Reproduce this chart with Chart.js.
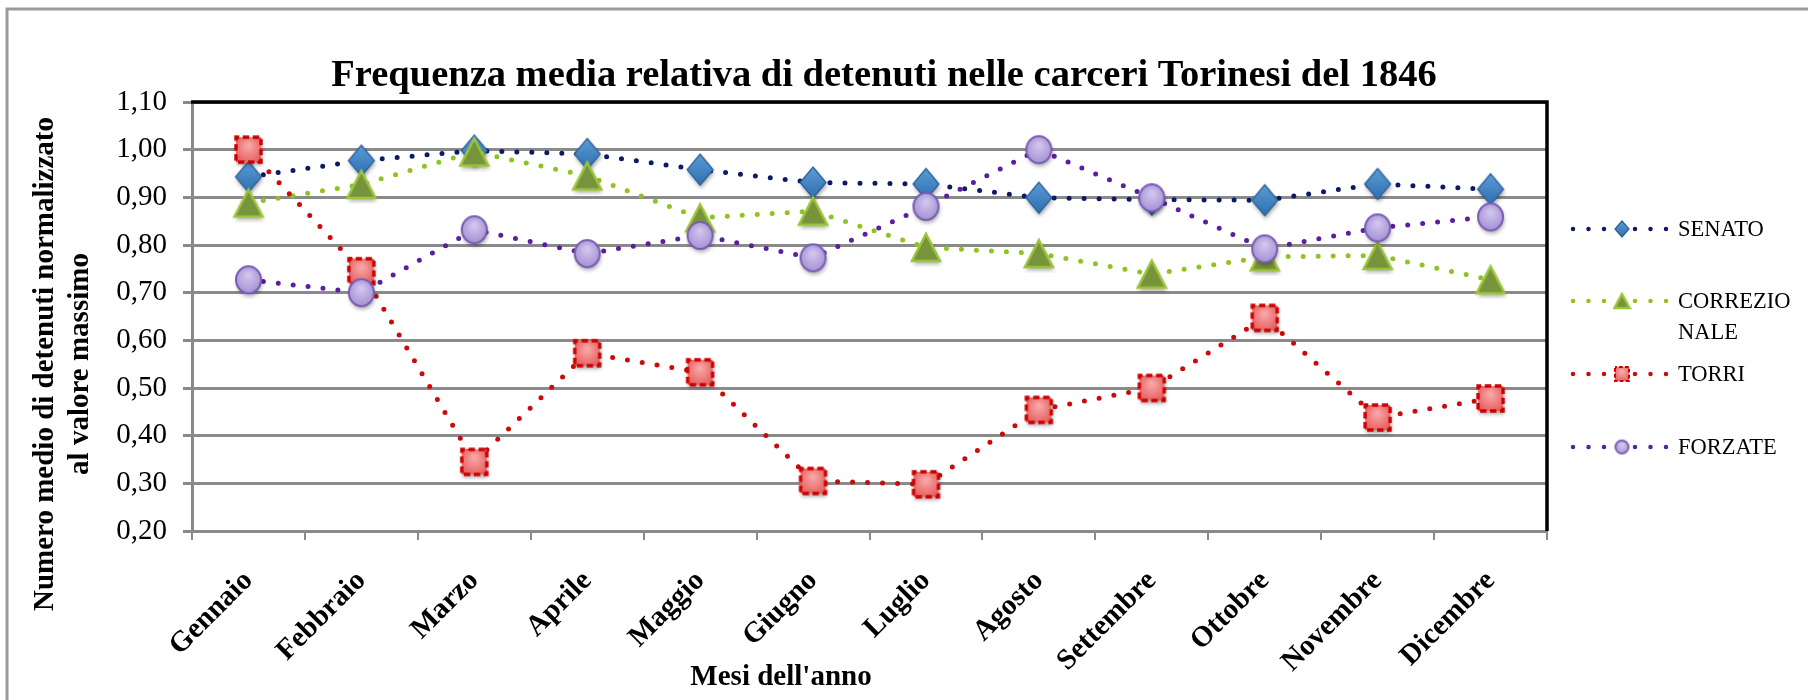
<!DOCTYPE html>
<html>
<head>
<meta charset="utf-8">
<script src="https://cdn.jsdelivr.net/npm/chart.js@4.4.1/dist/chart.umd.min.js"></script>
<style>
html,body{margin:0;padding:0;background:#fff;}
#wrap{width:1808px;height:700px;position:relative;}
</style>
</head>
<body>
<div id="wrap"><canvas id="c" width="1808" height="700"></canvas></div>
<script>
// ---- data ----
const MONTHS = ['Gennaio','Febbraio','Marzo','Aprile','Maggio','Giugno','Luglio','Agosto','Settembre','Ottobre','Novembre','Dicembre'];
const SERIES_NAMES = ['SENATO','CORREZIONALE','TORRI','FORZATE'];
const SENATO       = [0.943, 0.977, 0.998, 0.991, 0.958, 0.931, 0.928, 0.899, 0.895, 0.894, 0.928, 0.917];
const CORREZIONALE = [0.888, 0.927, 0.995, 0.945, 0.857, 0.871, 0.795, 0.782, 0.739, 0.775, 0.778, 0.727];
const TORRI        = [1.000, 0.745, 0.345, 0.573, 0.533, 0.305, 0.298, 0.454, 0.500, 0.647, 0.438, 0.478];
const FORZATE      = [0.727, 0.700, 0.832, 0.782, 0.820, 0.773, 0.881, 1.000, 0.899, 0.792, 0.836, 0.859];
const Y_MIN = 0.2, Y_MAX = 1.1, Y_STEP = 0.1;
const TITLE = 'Frequenza media relativa di detenuti nelle carceri Torinesi del 1846';
const X_TITLE = "Mesi dell'anno";
const Y_TITLE = ['Numero medio di detenuti normalizzato', 'al valore massimo'];

// ---- marker images ----
function mk(w, h, draw, shadow) {
  const pad = shadow ? 6 : 2;
  const c = document.createElement('canvas');
  c.width = w + pad * 2; c.height = h + pad * 2;
  const g = c.getContext('2d');
  if (shadow) { g.shadowColor = 'rgba(0,0,0,0.35)'; g.shadowBlur = 4; g.shadowOffsetX = 1; g.shadowOffsetY = 3; }
  draw(g, pad, pad, w, h);
  return c;
}
function diamond(w, h, shadow) {
  return mk(w, h, (g, x, y, W, H) => {
    const grd = g.createLinearGradient(x, y, x, y + H);
    grd.addColorStop(0, '#5b9bd8'); grd.addColorStop(1, '#2f6fae');
    g.fillStyle = grd; g.strokeStyle = '#2a5d95'; g.lineWidth = 1.2;
    g.beginPath(); g.moveTo(x + W / 2, y); g.lineTo(x + W, y + H / 2); g.lineTo(x + W / 2, y + H); g.lineTo(x, y + H / 2); g.closePath();
    g.fill(); g.shadowColor = 'transparent'; g.stroke();
  }, shadow);
}
function triangle(w, h, shadow) {
  return mk(w, h, (g, x, y, W, H) => {
    g.fillStyle = '#77933c'; g.strokeStyle = '#9bc43a'; g.lineWidth = 2.5;
    g.beginPath(); g.moveTo(x + W / 2, y); g.lineTo(x + W, y + H); g.lineTo(x, y + H); g.closePath();
    g.fill(); g.shadowColor = 'transparent'; g.stroke();
  }, shadow);
}
function torri(s, shadow) {
  return mk(s, s, (g, x, y, W, H) => {
    const grd = g.createRadialGradient(x + W / 2, y + H / 3, 1, x + W / 2, y + H / 2, W * 0.7);
    grd.addColorStop(0, '#f8a8a8'); grd.addColorStop(1, '#e24a4a');
    g.fillStyle = grd;
    g.fillRect(x + 1, y + 1, W - 2, H - 2);
    g.shadowColor = 'transparent';
    g.strokeStyle = '#cc0000'; g.lineWidth = Math.max(2, W / 8);
    const d = W / 4.2;
    g.setLineDash([d, d * 0.55]);
    g.lineDashOffset = d / 2;
    g.strokeRect(x + 1, y + 1, W - 2, H - 2);
  }, shadow);
}
function circle(w, h, shadow) {
  return mk(w, h, (g, x, y, W, H) => {
    const grd = g.createRadialGradient(x + W / 2, y + H / 3, 1, x + W / 2, y + H / 2, W * 0.6);
    grd.addColorStop(0, '#d2c6ee'); grd.addColorStop(1, '#9e8ad0');
    g.fillStyle = grd; g.strokeStyle = '#7a5cb4'; g.lineWidth = 2;
    g.beginPath(); g.ellipse(x + W / 2, y + H / 2, W / 2 - 1, H / 2 - 1, 0, 0, Math.PI * 2);
    g.fill(); g.shadowColor = 'transparent'; g.stroke();
  }, shadow);
}

const MARKERS = [diamond(26, 31, true), triangle(28, 27, true), torri(27, true), circle(27, 29, true)];
const LEG_MARKERS = [diamond(14, 16, false), triangle(15, 14, false), torri(16, false), circle(15, 15, false)];
const LINE_COLORS = ['#0c1a66', '#8fc31f', '#cc0a0a', '#5a1ea0'];
const SERIES = [SENATO, CORREZIONALE, TORRI, FORZATE];
const FONT = "'Liberation Serif', 'Times New Roman', serif";

const datasets = SERIES.map((vals, i) => ({
  label: SERIES_NAMES[i],
  data: vals,
  borderColor: LINE_COLORS[i],
  backgroundColor: LINE_COLORS[i],
  borderWidth: 5,
  borderDash: [0, 15],
  borderCapStyle: 'round',
  tension: 0,
  fill: false,
  pointStyle: MARKERS[i],
  pointRadius: 13,
  order: 3 - i
}));

// ---- plugins ----
const decor = {
  id: 'decor',
  beforeDraw(chart) {
    const ctx = chart.ctx;
    ctx.save();
    ctx.fillStyle = '#fff'; ctx.fillRect(0, 0, chart.width, chart.height);
    ctx.strokeStyle = '#9a9a9a'; ctx.lineWidth = 3;
    ctx.strokeRect(7, 9, 2000, 1000);
    ctx.restore();
  },
  beforeDatasetsDraw(chart) {
    const a = chart.chartArea, ctx = chart.ctx;
    ctx.save();
    ctx.strokeStyle = '#000'; ctx.lineWidth = 3.5;
    ctx.beginPath(); ctx.moveTo(a.left - 1, a.top); ctx.lineTo(a.right, a.top); ctx.lineTo(a.right, a.bottom); ctx.stroke();
    ctx.restore();
  },
  afterDraw(chart) {
    const ctx = chart.ctx;
    ctx.save();
    ctx.fillStyle = '#000';
    // main title
    ctx.font = 'bold 38.5px ' + FONT;
    ctx.textAlign = 'center'; ctx.textBaseline = 'alphabetic';
    ctx.fillText(TITLE, 884, 86);
    // x title
    ctx.font = 'bold 29px ' + FONT;
    ctx.fillText(X_TITLE, 781, 685);
    // y title
    ctx.save();
    ctx.translate(0, 364);
    ctx.rotate(-Math.PI / 2);
    ctx.textBaseline = 'middle';
    ctx.fillText(Y_TITLE[0], 0, 46);
    ctx.fillText(Y_TITLE[1], 0, 81);
    ctx.restore();
    // legend
    const LY = [229, 301, 374, 447];
    chart.data.datasets.forEach((ds, i) => {
      const y = LY[i];
      ctx.save();
      ctx.strokeStyle = ds.borderColor; ctx.lineWidth = 4.5; ctx.lineCap = 'round';
      ctx.setLineDash([0, 15.5]);
      ctx.beginPath(); ctx.moveTo(1573, y); ctx.lineTo(1670, y); ctx.stroke();
      ctx.restore();
      const m = LEG_MARKERS[i];
      ctx.drawImage(m, 1622 - m.width / 2, y - m.height / 2);
      ctx.font = '22.5px ' + FONT;
      ctx.textAlign = 'left'; ctx.textBaseline = 'middle';
      // wrap label to legend width
      const lines = []; let cur = '';
      for (const ch of ds.label) {
        if (ctx.measureText(cur + ch).width > 120) { lines.push(cur); cur = ch; } else cur += ch;
      }
      lines.push(cur);
      lines.forEach((w, k) => ctx.fillText(w, 1678, y + 1 + k * 31));
    });
    ctx.restore();
  }
};

new Chart(document.getElementById('c'), {
  type: 'line',
  data: { labels: MONTHS, datasets },
  options: {
    responsive: false,
    animation: false,
    layout: { padding: { left: 0, top: 102, right: 261, bottom: 0 } },
    plugins: { legend: { display: false }, title: { display: false }, tooltip: { enabled: false } },
    scales: {
      x: {
        offset: true,
        grid: { display: true, drawOnChartArea: false, drawTicks: true, tickLength: 9, color: '#8a8a8a', lineWidth: 2, offset: true },
        border: { display: true, color: '#8a8a8a', width: 3 },
        ticks: { font: { family: FONT, size: 29, weight: 'bold' }, color: '#000', minRotation: 45, maxRotation: 45, autoSkip: false, padding: 24 },
        afterFit(s) { s.height = 169; }
      },
      y: {
        min: Y_MIN, max: Y_MAX,
        ticks: { stepSize: Y_STEP, callback: v => v.toFixed(2).replace('.', ','), font: { family: FONT, size: 29 }, color: '#000', padding: 16 },
        grid: { color: '#8a8a8a', lineWidth: 3, tickLength: 9 },
        border: { color: '#8a8a8a', width: 3 },
        afterFit(s) { s.width = 192; }
      }
    }
  },
  plugins: [decor]
});
</script>
</body>
</html>
